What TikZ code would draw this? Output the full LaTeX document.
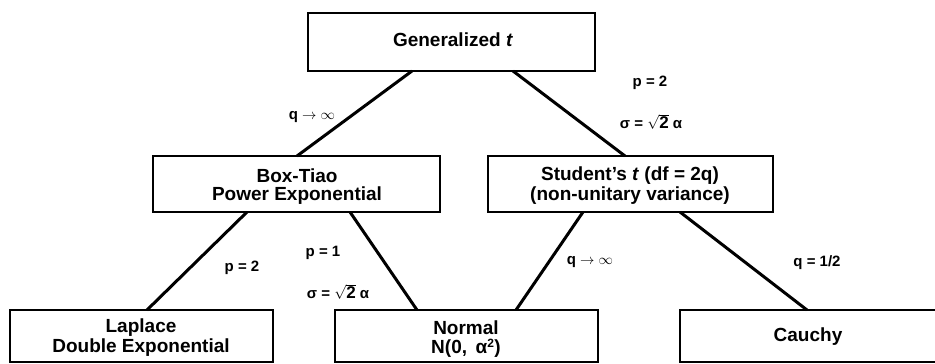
\documentclass[tikz,border=0pt]{standalone}
\usepackage{fontspec}
\setmainfont{Liberation Sans}
\begin{document}
\begin{tikzpicture}[x=1pt,y=-1pt,
  boxline/.style={draw=black,line width=2.8pt},
  conn/.style={draw=black,line width=3pt},
  btext/.style={font=\bfseries\fontsize{19}{20}\selectfont,align=center,inner sep=0pt},
  lbl/.style={font=\bfseries\fontsize{15}{16}\selectfont,inner sep=0pt}]
\useasboundingbox (0,0) rectangle (935,364);
\clip (0,0) rectangle (935,364);
% boxes
\draw[boxline] (308,13) rectangle (595,71);
\draw[boxline] (153,156) rectangle (440,212);
\draw[boxline] (488,156) rectangle (773,212);
\draw[boxline] (10,310) rectangle (273,362);
\draw[boxline] (335,310) rectangle (598,362);
\draw[boxline] (680,310) rectangle (950,362);
% texts
\node[btext] (gen) at (453,40) {Generalized \textit{t}};
\node[btext] (bt1) at (297,176) {Box-Tiao};
\node[btext] (bt2) at (297,196) {Power Exponential};
\node[btext] (st1) at (630,176) {Student's \textit{t} (df = 2q)};
\node[btext] (st2) at (630,196) {(non-unitary variance)};
\node[btext] (lp1) at (141,328) {Laplace};
\node[btext] (lp2) at (141,348) {Double Exponential};
\node[btext] (nm1) at (466,328) {Normal};
\node[btext] (nm2) at (466,348) {N(0,\, α$^{\mbox{\fontsize{12}{12}\selectfont\bfseries 2}}$)};
\node[btext] (cy) at (808,337) {Cauchy};
% connector endpoints
\coordinate (g1) at (412,71);
\coordinate (g2) at (513,71);
\coordinate (b0) at (297,156);
\coordinate (s0) at (625,156);
\coordinate (b1) at (247,212);
\coordinate (b2) at (350,212);
\coordinate (s1) at (583,212);
\coordinate (s2) at (680,212);
\coordinate (l0) at (147,310);
\coordinate (n1) at (417,310);
\coordinate (n2) at (516,310);
\coordinate (c0) at (807,310);
\draw[conn] (g1) -- (b0);
\draw[conn] (g2) -- (s0);
\draw[conn] (b1) -- (l0);
\draw[conn] (b2) -- (n1);
\draw[conn] (s1) -- (n2);
\draw[conn] (s2) -- (c0);
% labels
\newcommand{\sqtwo}{$\sqrt{\mbox{\bfseries\fontsize{17}{17}\selectfont 2}}$}
\node[lbl] (la) at (312,117) {q $\to$ $\infty$};
\node[lbl] (lb) at (650,83) {p = 2};
\node[lbl] (lc) at (651,122) {σ = \sqtwo\ α};
\node[lbl] (ld) at (242,268) {p = 2};
\node[lbl] (le) at (323,253) {p = 1};
\node[lbl] (lf) at (338,292) {σ = \sqtwo\ α};
\node[lbl] (lg) at (590,262) {q $\to$ $\infty$};
\node[lbl] (lh) at (817,263) {q = 1/2};
\end{tikzpicture}
\end{document}
